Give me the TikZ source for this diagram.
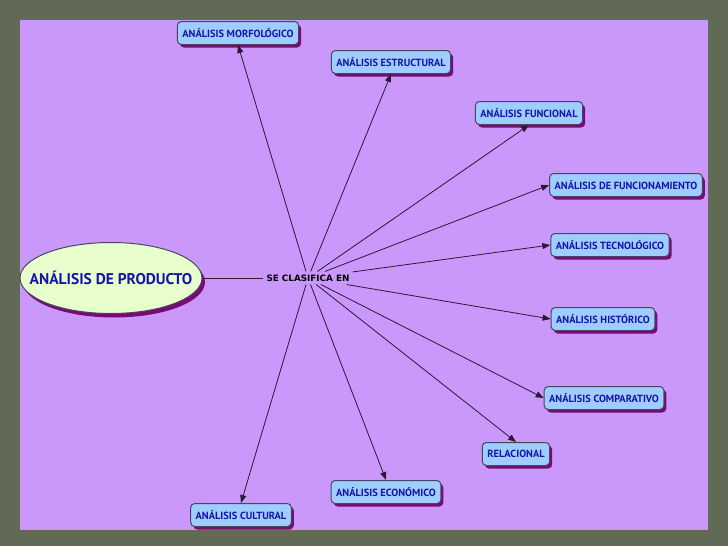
\documentclass[tikz,border=0pt]{standalone}
\usepackage{fontspec}
\setmainfont{PT Sans}
\newfontfamily\linkfont{DejaVu Sans}
\usetikzlibrary{arrows.meta,shadows,shapes.geometric}
\definecolor{bgtex}{RGB}{96,106,84}
\definecolor{panel}{RGB}{202,152,250}
\definecolor{boxfill}{RGB}{160,205,255}
\definecolor{boxtext}{RGB}{20,20,170}
\definecolor{boxline}{RGB}{70,70,100}
\definecolor{shadowc}{RGB}{120,10,115}
\definecolor{ellfill}{RGB}{232,255,205}
\definecolor{linec}{RGB}{40,25,55}
\begin{document}
\begin{tikzpicture}[x=1pt,y=-1pt,
  concept/.style={draw=boxline, line width=1pt, fill=boxfill, rounded corners=4pt,
    text=boxtext, font=\bfseries\fontsize{10.4}{12}\selectfont,
    minimum height=23pt, inner xsep=5pt,
    drop shadow={shadow xshift=2.5pt, shadow yshift=-3pt, fill=shadowc, opacity=1}},
  mainconcept/.style={ellipse, draw=boxline, line width=1pt, fill=ellfill,
    minimum width=182pt, minimum height=71pt, inner sep=0pt,
    drop shadow={shadow xshift=3pt, shadow yshift=-4pt, fill=shadowc, opacity=1}},
  maintext/.style={text=boxtext, font=\bfseries\fontsize{15.5}{18}\selectfont},
  linklabel/.style={font=\linkfont\bfseries\fontsize{8.8}{10}\selectfont, text=black, inner sep=3pt},
  link/.style={draw=linec, line width=0.8pt},
  arrowlink/.style={link, -{Triangle[length=8pt,width=6pt]}}
]
\useasboundingbox (0,0) rectangle (728,546);
\fill[bgtex] (0,0) rectangle (728,546);
\fill[panel] (20,20) rectangle (708,530);

\node[mainconcept, label={[maintext]center:ANÁLISIS DE PRODUCTO}] (prod) at (111,278) {};
\node[linklabel] (lab) at (308,278) {SE CLASIFICA EN};

\node[concept] (morf) at (238,33) {ANÁLISIS MORFOLÓGICO};
\node[concept] (estr) at (391,62) {ANÁLISIS ESTRUCTURAL};
\node[concept] (func) at (529,113) {ANÁLISIS FUNCIONAL};
\node[concept] (fnto) at (626,185) {ANÁLISIS DE FUNCIONAMIENTO};
\node[concept] (tecn) at (610,245) {ANÁLISIS TECNOLÓGICO};
\node[concept] (hist) at (603,319) {ANÁLISIS HISTÓRICO};
\node[concept] (comp) at (604,398) {ANÁLISIS COMPARATIVO};
\node[concept] (rela) at (516,454) {RELACIONAL};
\node[concept] (econ) at (386,492) {ANÁLISIS ECONÓMICO};
\node[concept] (cult) at (241,515) {ANÁLISIS CULTURAL};

\draw[link] (prod) -- (lab);
\draw[arrowlink] (lab) -- (morf.south);
\draw[arrowlink] (lab) -- (estr.south);
\draw[arrowlink] (lab) -- (func.south);
\draw[arrowlink] (lab) -- (fnto.west);
\draw[arrowlink] (lab) -- (tecn.west);
\draw[arrowlink] (lab) -- (hist.west);
\draw[arrowlink] (lab) -- (comp.west);
\draw[arrowlink] (lab) -- (rela.north);
\draw[arrowlink] (lab) -- (econ.north);
\draw[arrowlink] (lab) -- (cult.north);
\end{tikzpicture}
\end{document}
